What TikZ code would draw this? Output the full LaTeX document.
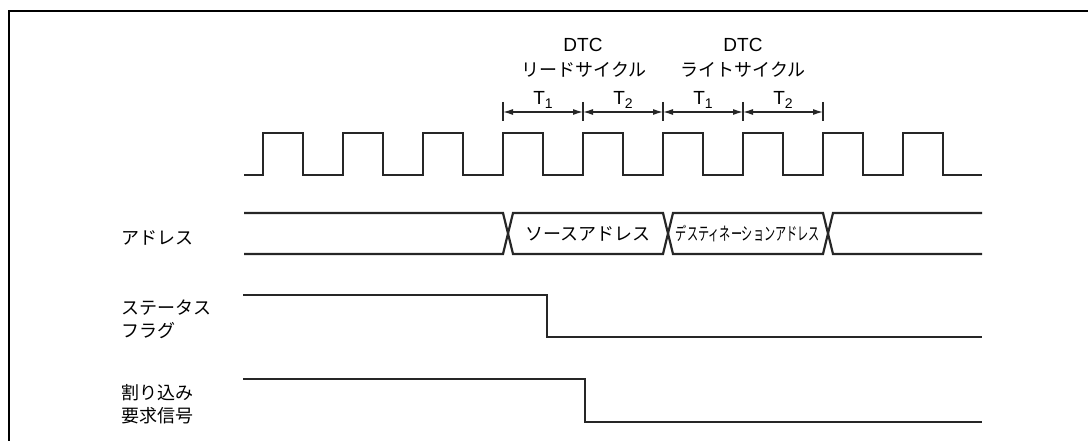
\documentclass[tikz,border=0pt]{standalone}
\usepackage{fontspec}
\setmainfont{Liberation Sans}
\newfontfamily\jp{Noto Sans CJK JP}
\usetikzlibrary{arrows.meta}

\tikzset{
	sig/.style={line width=2.2pt, black!85, line join=miter},
	jlab/.style={font=\jp\fontsize{18}{23}\selectfont, inner sep=0pt},
	elab/.style={font=\fontsize{19}{22}\selectfont, inner sep=0pt},
	dim/.style={line width=1.2pt, black!85, {Latex[length=10pt,width=6pt]}-{Latex[length=10pt,width=6pt]}}
}
\newcommand{\tsub}[1]{T\raisebox{-3.5pt}{\fontsize{14}{14}\selectfont #1}}

\begin{document}
\begin{tikzpicture}[x=1pt, y=-1pt]
	\useasboundingbox (0,0) rectangle (1088,441);
	% Khung
	\draw[line width=2.7pt] (9,441) -- (9,11) -- (1088,11);
	% Vạch chia chu kỳ T1, T2
	\foreach \i/\x in {0/503, 1/583, 2/663, 3/743, 4/823} {
		\coordinate (k\i) at (\x,112);
		\draw[line width=1.2pt, black!85] (\x,102) -- (\x,121);
	}
	\draw[dim] (k0) -- (k1);
	\draw[dim] (k1) -- (k2);
	\draw[dim] (k2) -- (k3);
	\draw[dim] (k3) -- (k4);
	\node[elab, anchor=base] (ta) at (543,105) {\tsub{1}};
	\node[elab, anchor=base] (tb) at (623,105) {\tsub{2}};
	\node[elab, anchor=base] (tc) at (703,105) {\tsub{1}};
	\node[elab, anchor=base] (td) at (783,105) {\tsub{2}};
	% Nhãn chu kỳ DTC
	\node[elab] (dtcR) at (583,45) {DTC};
	\node[jlab] (cyR) at (584,70) {リードサイクル};
	\node[elab] (dtcW) at (743,45) {DTC};
	\node[jlab] (cyW) at (743,70) {ライトサイクル};
	% Xung nhịp
	\draw[sig] (244,175) \foreach \x in {263,343,...,903} {
		-- (\x,175) -- (\x,133) -- (\x+40,133) -- (\x+40,175)
	} -- (982,175);
	% Bus địa chỉ
	\draw[sig] (244,213) -- (503,213) -- (513,254) -- (663,254) -- (673,213)
		-- (823,213) -- (833,254) -- (982,254);
	\draw[sig] (244,254) -- (503,254) -- (513,213) -- (663,213) -- (673,254)
		-- (823,254) -- (833,213) -- (982,213);
	\node[jlab] (src) at (588,234) {ソースアドレス};
	\node[jlab] (dst) at (748,234) {\scalebox{0.62}[1]{デスティネーションアドレス}};
	% Cờ trạng thái và yêu cầu ngắt
	\draw[sig] (243,295) -- (547,295) -- (547,337) -- (982,337);
	\draw[sig] (243,379) -- (585,379) -- (585,422) -- (982,422);
	% Nhãn tín hiệu
	\node[jlab, anchor=west] (lbAddr) at (121,238) {アドレス};
	\node[jlab, anchor=west, align=left] (lbStat) at (121,319) {ステータス\\フラグ};
	\node[jlab, anchor=west, align=left] (lbIrq) at (121,404) {割り込み\\要求信号};
\end{tikzpicture}
\end{document}
